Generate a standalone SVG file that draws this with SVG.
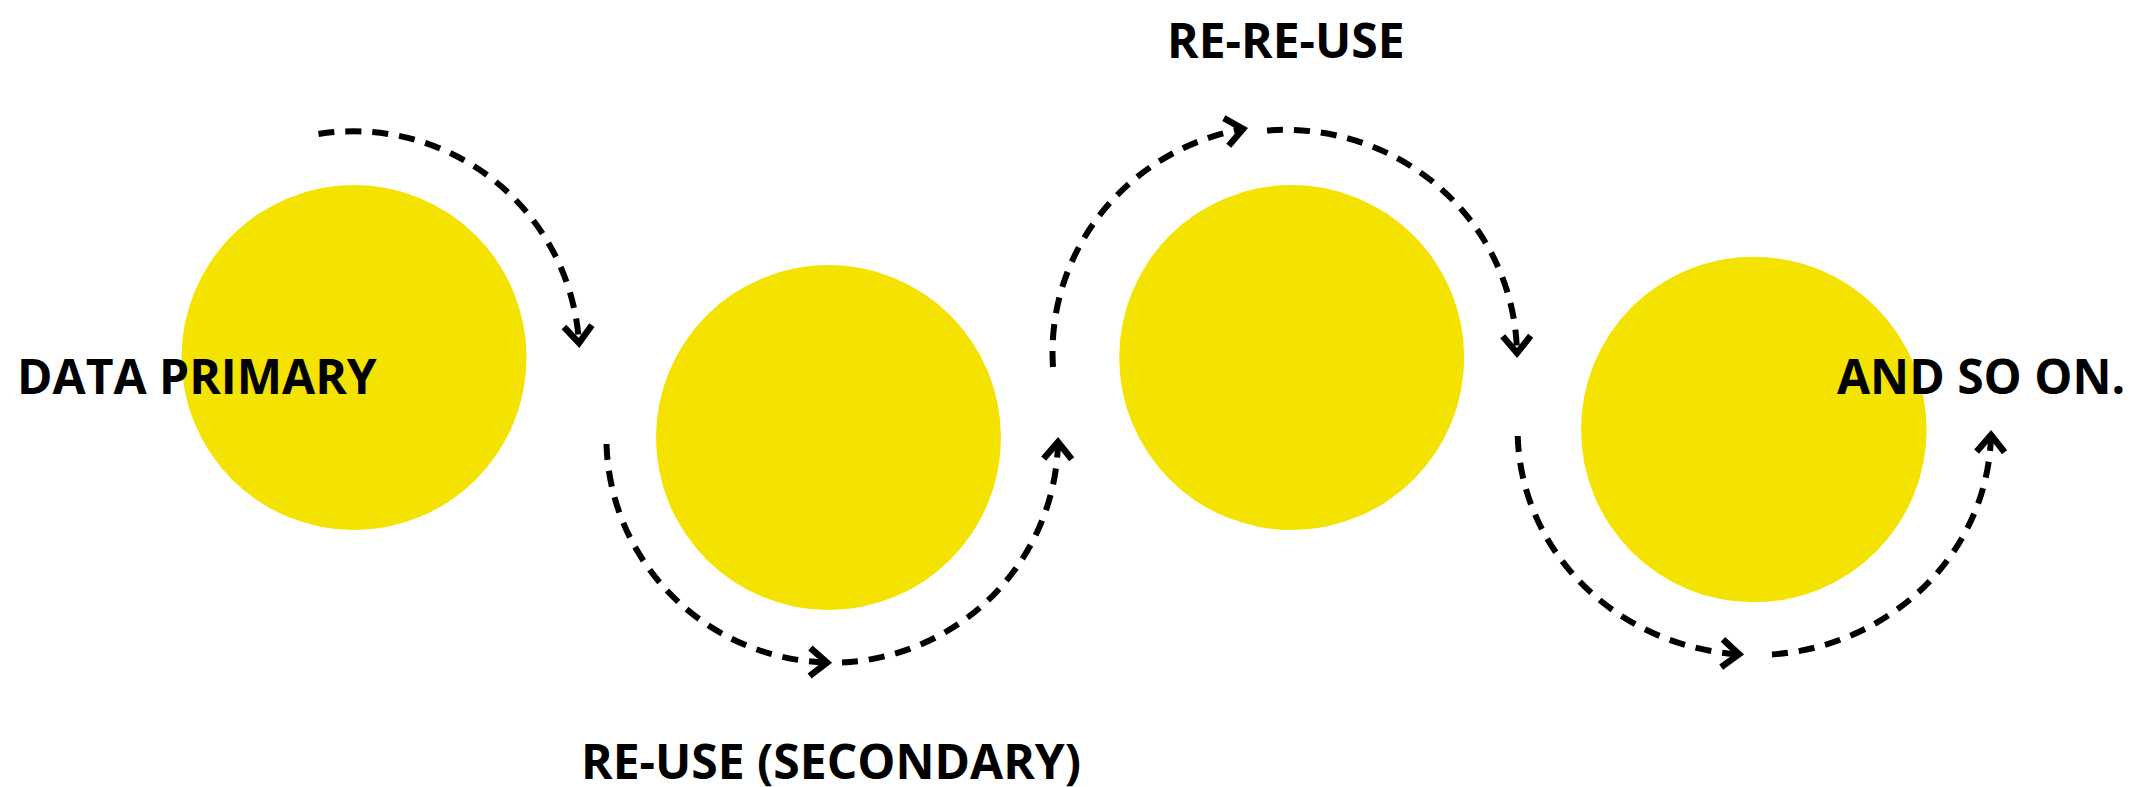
<svg xmlns="http://www.w3.org/2000/svg" width="2146" height="787" viewBox="0 0 2146 787">
  <defs>
    <style>
      .blob { fill: #F4E200; }
      .lbl { font-family: "Open Sans", "Liberation Sans", sans-serif; font-weight: 700; font-size: 48px; fill: #000; }
      .flow { fill: none; stroke: #000; stroke-width: 6; stroke-dasharray: 16 11; marker-end: url(#chev); }
    </style>
    <marker id="chev" markerUnits="userSpaceOnUse" markerWidth="50" markerHeight="50" refX="0" refY="0" orient="auto" overflow="visible" viewBox="-25 -25 50 50">
      <path d="M-17,-14 L0,0 L-17,14" fill="none" stroke="#000" stroke-width="6.5" stroke-linejoin="miter"/>
    </marker>
  </defs>
  <rect width="2146" height="787" fill="#fff"/>

  <g id="node-primary">
    <circle class="blob" cx="354" cy="357.5" r="172.5"/>
  </g>
  <g id="node-secondary">
    <circle class="blob" cx="828.5" cy="437.5" r="172.5"/>
  </g>
  <g id="node-rereuse">
    <circle class="blob" cx="1291.7" cy="357.5" r="172.5"/>
  </g>
  <g id="node-andsoon">
    <circle class="blob" cx="1753.8" cy="429.5" r="172.8"/>
  </g>

  <g id="connectors">
    <path class="flow" d="M318.5,134 A226,226 0 0 1 579,343"/>
    <path class="flow" d="M606.5,444 A227,225 0 0 0 827,662.5"/>
    <path class="flow" d="M842,662.5 A227,225 0 0 0 1058,442"/>
    <path class="flow" d="M1053,367 A232,227 0 0 1 1243,129"/>
    <path class="flow" d="M1267,130.5 A232,227 0 0 1 1517,353"/>
    <path class="flow" d="M1517.7,436 A237,225 0 0 0 1739,654.3"/>
    <path class="flow" d="M1772,654.5 A237,225 0 0 0 1991,435"/>
  </g>

  <g id="labels">
    <text class="lbl" x="17" y="394">DATA PRIMARY</text>
    <text class="lbl" x="581" y="779">RE-USE (SECONDARY)</text>
    <text class="lbl" x="1167" y="58">RE-RE-USE</text>
    <text class="lbl" x="1837" y="393.5">AND SO ON.</text>
  </g>
</svg>
